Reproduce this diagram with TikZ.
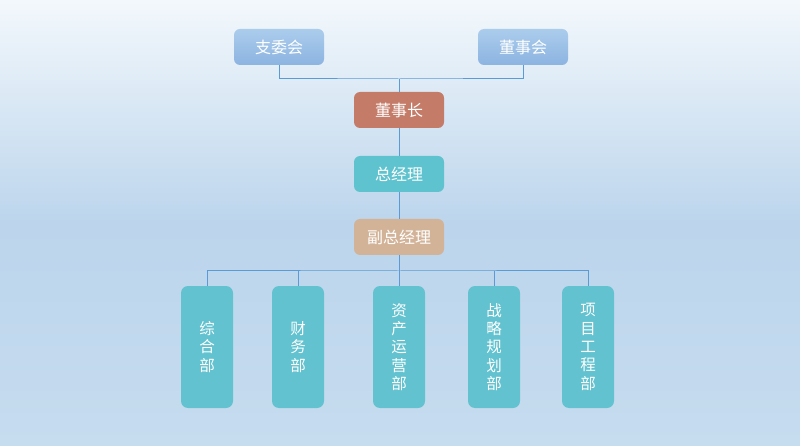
\documentclass[tikz,border=0pt]{standalone}
\usepackage{fontspec}
\setmainfont{Noto Sans CJK SC}
\definecolor{bgtop}{HTML}{F3F8FC}
\definecolor{bgmid}{HTML}{BCD5EC}
\definecolor{bgbot}{HTML}{C6DCEF}
\definecolor{toptop}{HTML}{ABCCEC}
\definecolor{topbot}{HTML}{8CB4E1}
\definecolor{chair}{HTML}{C47C69}
\definecolor{gm}{HTML}{5EC3CF}
\definecolor{dgm}{HTML}{D3B398}
\definecolor{dept}{HTML}{62C2CF}
\definecolor{linkc}{HTML}{5B9BD5}
\begin{document}
\begin{tikzpicture}[x=1pt,y=-1pt,
  box/.style={rounded corners=6pt, minimum width=90pt, minimum height=36pt, inner sep=0pt,
    text=white, font=\fontsize{16}{18}\selectfont},
  topbox/.style={box, top color=toptop, bottom color=topbot},
  deptbox/.style={rounded corners=7pt, fill=dept, minimum width=52pt, minimum height=122pt,
    inner sep=0pt, text=white, align=center, font=\fontsize{15.5}{18.3}\selectfont},
  link/.style={draw=linkc, line width=1pt}]
\useasboundingbox (0,0) rectangle (800,446);
\shade[top color=bgtop, bottom color=bgbot, middle color=bgmid] (0,0) rectangle (800,446);
\node[topbox] (zwh) at (279,47) {支委会};
\node[topbox] (dsh) at (523,47) {董事会};
\node[box, fill=chair] (dsz) at (399,110) {董事长};
\node[box, fill=gm] (zjl) at (399,174) {总经理};
\node[box, fill=dgm] (fzjl) at (399,237) {副总经理};
\node[deptbox] (d1) at (207,347) {综\\合\\部};
\node[deptbox] (d2) at (298,347) {财\\务\\部};
\node[deptbox] (d3) at (399,347) {资\\产\\运\\营\\部};
\node[deptbox] (d4) at (494,347) {战\\略\\规\\划\\部};
\node[deptbox] (d5) at (588,347) {项\\目\\工\\程\\部};
\coordinate (busT) at (399,79);
\coordinate (busB) at (399,271);
\draw[link] (zwh.south) |- (busT) -| (dsh.south);
\draw[link] (busT) -- (dsz.north);
\draw[link] (dsz.south) -- (zjl.north);
\draw[link] (zjl.south) -- (fzjl.north);
\draw[link] (fzjl.south) -- (d3.north);
\draw[link] (d1.north) |- (busB) -| (d5.north);
\draw[link] (d2.north) -- (d2.north |- busB);
\draw[link] (d4.north) -- (d4.north |- busB);
\end{tikzpicture}
\end{document}
